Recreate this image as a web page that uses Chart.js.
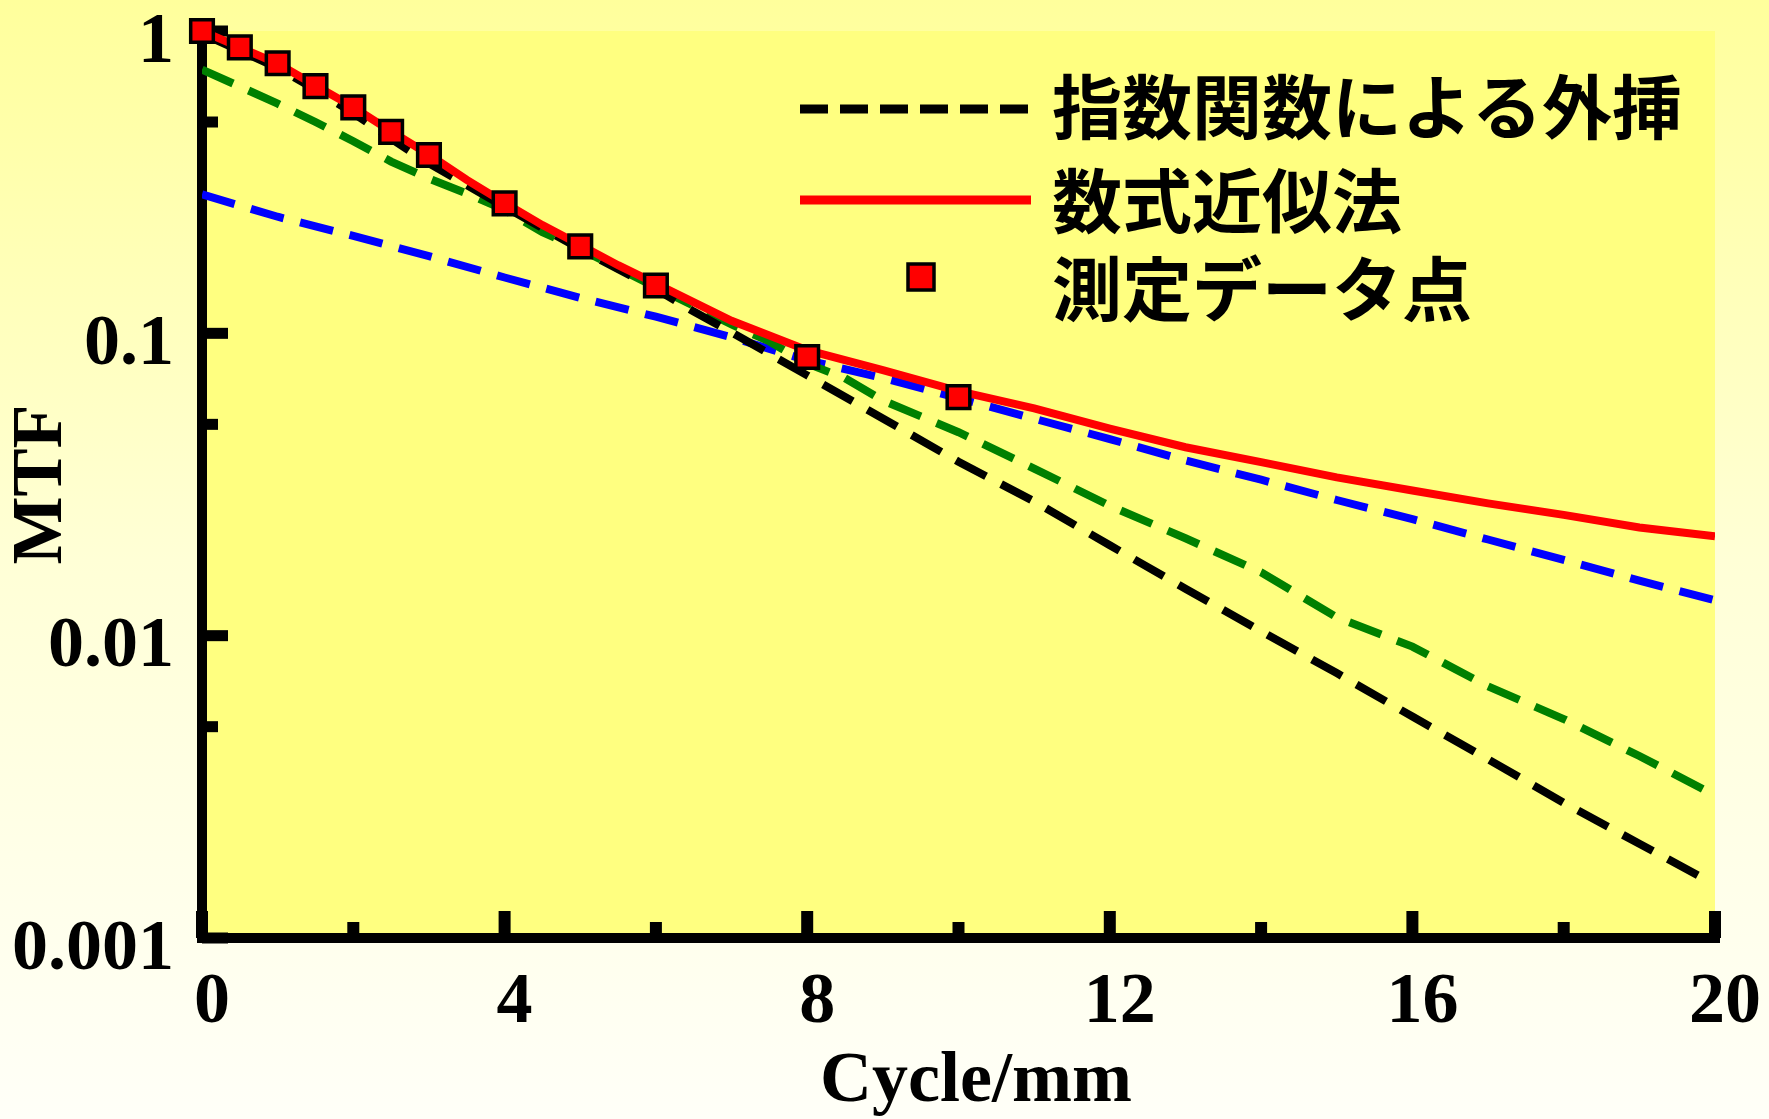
<!DOCTYPE html>
<html>
<head>
<meta charset="utf-8">
<script src="https://cdn.jsdelivr.net/npm/chart.js@4"></script>
<style>
  html, body { margin: 0; padding: 0; overflow: hidden; background: #fffff8; }
</style>
</head>
<body>
<canvas id="mtfChart" width="1769" height="1119"></canvas>
<script>
  // measured points
  const measX = [0, 0.5, 1, 1.5, 2, 2.5, 3, 4, 5, 6, 8, 10];
  const measY = [1.0, 0.883, 0.782, 0.657, 0.559, 0.464, 0.389, 0.269, 0.194, 0.144, 0.0835, 0.0615];

  // 数式近似法 (red)
  const fitX = [0, 0.5, 1, 1.5, 2, 2.5, 3, 3.5, 4, 4.5, 5, 5.5, 6, 7, 8, 9, 10, 11, 12, 13, 14, 15, 16, 17, 18, 19, 20];
  const fitY = [1.0, 0.883, 0.78, 0.66, 0.56, 0.466, 0.39, 0.322, 0.27, 0.228, 0.196, 0.168, 0.146, 0.11, 0.088, 0.0755, 0.0644,
                0.0565, 0.0484, 0.042, 0.0375, 0.0334, 0.0302, 0.0274, 0.0251, 0.0228, 0.0213];

  // 指数関数による外挿 (black dashed)
  const expX = [0, 0.5, 1, 1.5, 2, 2.5, 3, 4, 5, 6, 6.5, 7, 8, 9, 10, 11, 12, 13, 14, 15, 16, 17, 18, 19, 19.8];
  const expY = [0.98, 0.86, 0.755, 0.64, 0.535, 0.44, 0.365, 0.262, 0.19, 0.14, 0.118, 0.1007, 0.0726, 0.0523, 0.0376,
                0.0278, 0.0199, 0.0143, 0.01035, 0.00752, 0.0054, 0.0039, 0.0028, 0.00205, 0.0016];

  // green dashed (no legend entry)
  const greenX = [0, 0.5, 1, 1.5, 2, 2.5, 3, 3.5, 4, 4.5, 5, 6, 7, 7.5, 8, 8.5, 9, 10, 11, 12, 13, 14, 15, 16, 17, 18, 19, 19.85];
  const greenY = [0.745, 0.655, 0.575, 0.5, 0.432, 0.37, 0.325, 0.29, 0.256, 0.216, 0.19, 0.142, 0.107, 0.094, 0.0795, 0.071,
                  0.06, 0.0471, 0.0357, 0.0269, 0.021, 0.0162, 0.0115, 0.0092, 0.0068, 0.0053, 0.004, 0.0031];

  // blue dashed (no legend entry)
  const blueX = [0, 1, 2, 3, 4, 5, 6, 7, 8, 9, 10, 11, 12, 13, 14, 15, 16, 17, 18, 19, 20];
  const blueY = [0.288, 0.243, 0.21, 0.18, 0.153, 0.131, 0.1135, 0.097, 0.0814, 0.0712, 0.061, 0.0522, 0.0447, 0.038,
                 0.0328, 0.0281, 0.0243, 0.0208, 0.0178, 0.0152, 0.0131];

  const xMajor = [0, 4, 8, 12, 16, 20];
  const xMinor = [2, 6, 10, 14, 18];
  const xLabels = ['0', '4', '8', '12', '16', '20'];
  const yMajor = [0.001, 0.01, 0.1, 1];
  const yMinor = [0.005, 0.05, 0.5];
  const yLabels = ['0.001', '0.01', '0.1', '1'];

  const legendOrder = ['指数関数による外挿', '数式近似法', '測定データ点'];

  const pts = (xs, ys) => xs.map((x, i) => ({ x: x, y: ys[i] }));
  const serif = { family: '"Liberation Serif", "Times New Roman", serif', size: 72, weight: 'bold', lineHeight: 1 };

  // page background, plot area, axes with inward ticks, x title, legend
  const paperPlugin = {
    id: 'paper',
    beforeDraw(chart) {
      const { ctx, width, height, chartArea: a } = chart;
      const g = ctx.createLinearGradient(0, 0, 0, height);
      g.addColorStop(0, '#FFFF9C');
      g.addColorStop(0.5, '#FFFFD6');
      g.addColorStop(1, '#FFFFF8');
      ctx.save();
      ctx.fillStyle = g;
      ctx.fillRect(0, 0, width, height);
      ctx.fillStyle = '#FFFF80';
      ctx.fillRect(a.left, a.top, a.right - a.left, a.bottom - a.top);
      ctx.restore();
    },
    beforeDatasetsDraw(chart) {
      const { ctx, chartArea: a, scales: { x, y } } = chart;
      ctx.save();
      ctx.fillStyle = '#000';
      ctx.fillRect(a.left - 5, a.top - 3, 10, a.bottom - a.top + 8);
      ctx.fillRect(a.left - 5, a.bottom - 5, a.right - a.left + 10, 10);
      xMajor.forEach(v => ctx.fillRect(x.getPixelForValue(v) - 6, a.bottom - 27, 12, 27));
      xMinor.forEach(v => ctx.fillRect(x.getPixelForValue(v) - 6, a.bottom - 16, 12, 16));
      yMajor.forEach(v => ctx.fillRect(a.left, y.getPixelForValue(v) - 5.5, 26, 11));
      yMinor.forEach(v => ctx.fillRect(a.left, y.getPixelForValue(v) - 5.5, 16, 11));
      ctx.restore();
    },
    afterDraw(chart) {
      const { ctx } = chart;
      ctx.save();
      // x axis title, sits a little right of the plot centre in the original
      ctx.font = 'bold 72px "Liberation Serif", "Times New Roman", serif';
      ctx.fillStyle = '#000';
      ctx.textAlign = 'center';
      ctx.textBaseline = 'middle';
      ctx.fillText('Cycle/mm', 976, 1082);

      const lineY = [109, 200, 276];
      const textY = [107, 201, 289];
      ctx.font = 'bold 70px "Noto Sans CJK JP", sans-serif';
      ctx.textAlign = 'left';
      legendOrder.forEach((name, row) => {
        const ds = chart.data.datasets.find(d => d.label === name);
        if (ds.showLine === false) {
          ctx.fillStyle = ds.pointBackgroundColor;
          ctx.strokeStyle = ds.pointBorderColor;
          ctx.lineWidth = ds.pointBorderWidth;
          ctx.fillRect(908, lineY[row] - 12, 26, 26);
          ctx.strokeRect(908, lineY[row] - 12, 26, 26);
        } else {
          ctx.strokeStyle = ds.borderColor;
          ctx.lineWidth = 9;
          ctx.setLineDash(ds.borderDash ? [28, 12] : []);
          ctx.beginPath();
          ctx.moveTo(800, lineY[row]);
          ctx.lineTo(1031, lineY[row]);
          ctx.stroke();
          ctx.setLineDash([]);
        }
        ctx.fillStyle = '#000';
        ctx.fillText(name, 1052, textY[row]);
      });
      ctx.restore();
    }
  };

  const ctx = document.getElementById('mtfChart').getContext('2d');
  const mtfChart = new Chart(ctx, {
    type: 'line',
    data: {
      datasets: [
        {
          label: '測定データ点',
          data: pts(measX, measY),
          showLine: false,
          pointStyle: 'rect',
          pointRadius: 16,
          pointBackgroundColor: '#FF0000',
          pointBorderColor: '#000000',
          pointBorderWidth: 3.5,
          clip: false,
          order: 0
        },
        {
          label: '数式近似法',
          data: pts(fitX, fitY),
          borderColor: '#FF0000',
          borderWidth: 8,
          pointRadius: 0,
          order: 1
        },
        {
          label: '指数関数による外挿',
          data: pts(expX, expY),
          borderColor: '#000000',
          borderWidth: 8,
          borderDash: [34, 17],
          pointRadius: 0,
          order: 2
        },
        {
          label: '',
          data: pts(greenX, greenY),
          borderColor: '#008000',
          borderWidth: 8,
          borderDash: [34, 17],
          pointRadius: 0,
          order: 3
        },
        {
          label: '',
          data: pts(blueX, blueY),
          borderColor: '#0000FF',
          borderWidth: 8,
          borderDash: [34, 17],
          pointRadius: 0,
          order: 4
        }
      ]
    },
    options: {
      responsive: false,
      animation: false,
      devicePixelRatio: 1,
      layout: { padding: { left: 0, top: 31, right: 54, bottom: 0 } },
      elements: { line: { tension: 0, borderCapStyle: 'butt' } },
      plugins: {
        legend: { display: false }, // drawn by paperPlugin
        tooltip: { enabled: false }
      },
      scales: {
        x: {
          type: 'linear',
          min: 0,
          max: 20,
          grid: { display: false },
          border: { display: false },
          afterBuildTicks: s => { s.ticks = xMajor.map(v => ({ value: v })); },
          afterFit: s => { s.height = 181; s.paddingLeft = 0; s.paddingRight = 0; },
          ticks: {
            autoSkip: false,
            maxRotation: 0,
            padding: 21,
            labelOffset: 10,
            color: '#000',
            font: serif,
            callback: v => xLabels[xMajor.indexOf(v)]
          }
        },
        y: {
          type: 'logarithmic',
          min: 0.001,
          max: 1,
          grid: { display: false },
          border: { display: false },
          afterBuildTicks: s => { s.ticks = yMajor.map(v => ({ value: v })); },
          afterFit: s => { s.width = 202; s.paddingTop = 0; s.paddingBottom = 0; },
          ticks: {
            autoSkip: false,
            padding: 20,
            labelOffset: 12,
            color: '#000',
            font: serif,
            callback: v => yLabels[yMajor.indexOf(v)]
          },
          title: { display: true, text: 'MTF', color: '#000', font: serif, padding: { top: 6, bottom: 0 } }
        }
      }
    },
    plugins: [paperPlugin]
  });
</script>
</body>
</html>
